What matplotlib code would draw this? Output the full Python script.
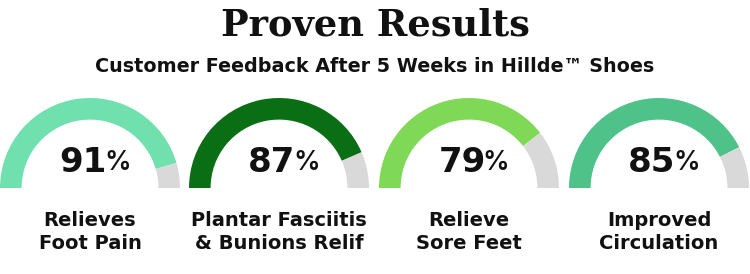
import matplotlib.pyplot as plt

# gauge data
labels = ['Relieves\nFoot Pain', 'Plantar Fasciitis\n& Bunions Relif',
          'Relieve\nSore Feet', 'Improved\nCirculation']
percents = [91, 87, 79, 85]
colors = ['#6fe0ae', '#0a6e14', '#7fd957', '#4fc28a']
track_color = '#d9d9d9'

title = 'Proven Results'
subtitle = 'Customer Feedback After 5 Weeks in Hillde\u2122 Shoes'

W, H = 750, 274
fig = plt.figure(figsize=(W / 100, H / 100), dpi=100)
fig.patch.set_facecolor('white')

# background axes in pixel units for the texts
bg = fig.add_axes([0, 0, 1, 1])
bg.set_xlim(0, W)
bg.set_ylim(0, H)
bg.axis('off')

bg.text(W / 2, 249, title, ha='center', va='center', fontsize=26.5,
        fontweight='bold', family='DejaVu Serif', color='#111111')
bg.text(W / 2, 207, subtitle, ha='center', va='center', fontsize=13.8,
        fontweight='bold', family='DejaVu Sans', color='#111111')

centers = [90, 279, 469, 659]
cy = 86
r = 90
for i, (cx, pct) in enumerate(zip(centers, percents)):
    ax = fig.add_axes([(cx - r) / W, (cy - r) / H, 2 * r / W, 2 * r / H])
    ax.pie([pct, 100 - pct, 100], colors=[colors[i], track_color, 'none'],
           startangle=180, counterclock=False, radius=1,
           wedgeprops=dict(width=0.24, linewidth=0))
    ax.set_xlim(-1, 1)
    ax.set_ylim(-1, 1)
    ax.axis('off')

    num = bg.text(cx - 7, 111, str(pct), ha='center', va='center',
                  fontsize=24.5, fontweight='bold', family='DejaVu Sans',
                  color='#111111')
    bg.annotate('%', xy=(1, 0.12), xycoords=num, xytext=(-2, 0),
                textcoords='offset points', ha='left', va='bottom',
                fontsize=19, fontweight='semibold', family='Inter', color='#111111')
    bg.text(cx, 42, labels[i], ha='center', va='center', fontsize=14,
            fontweight='bold', family='DejaVu Sans', color='#111111',
            linespacing=1.3)

fig.savefig('out.png', dpi=100, facecolor='white')
